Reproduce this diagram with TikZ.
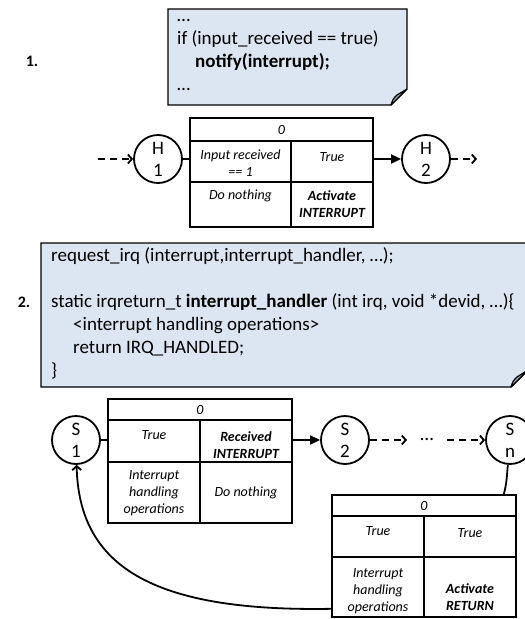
\documentclass[tikz,border=0pt]{standalone}
\usepackage{fontspec}
\setmainfont{Carlito}
\usetikzlibrary{arrows.meta}
\definecolor{notefill}{RGB}{220,230,242}
\definecolor{foldgray}{RGB}{168,175,186}

\begin{document}
\begin{tikzpicture}[x=1pt,y=-1pt,
    state/.style={draw,circle,line width=1.8pt,minimum size=48pt,inner sep=0pt,align=center,font=\fontsize{19}{22}\selectfont},
    tbl/.style={draw,line width=1.6pt,inner sep=0pt},
    tline/.style={line width=1.6pt},
    cell/.style={align=center,inner sep=0pt,font=\itshape\fontsize{14}{17}\selectfont},
    note/.style={draw,line width=1.4pt,fill=notefill},
    ear/.style={draw,line width=1.2pt,fill=foldgray,line join=round},
    code/.style={anchor=north west,align=left,inner sep=0pt,font=\fontsize{19}{23}\selectfont},
    link/.style={line width=1.8pt},
    dashlink/.style={line width=1.8pt,dash pattern=on 7pt off 5pt,-{Straight Barb[length=4pt,width=9pt]}},
    fire/.style={line width=1.8pt,-{Triangle[length=10pt,width=9pt]}}]
\useasboundingbox (0,0) rectangle (525,619);

% 1. hardware side
\node[font=\bfseries\fontsize{16}{19}\selectfont] (lab1) at (32,61) {1.};
\draw[note] (168,9) -- (407,9) -- (407,89) -- (391,105) -- (168,105) -- cycle;
\draw[ear] (391,105) .. controls (393,99) .. (397,95) -- (407,89) -- cycle;
\node[code] (code1) at (177,5) {\strut…\\
  \strut if (input\_received == true)\\
  \strut\hspace*{18pt}\textbf{notify(interrupt);}\\
  \strut…};

\node[state] (h1) at (158,159) {H\\1};
\node[state] (h2) at (426,159) {H\\2};
\coordinate (in1) at (98,159);
\coordinate (out1) at (477,159);

\node[tbl,minimum width=183pt,minimum height=109pt] (t1) at (281.5,172.5) {};
\draw[tline] (190,141) -- (373,141);
\draw[tline] (190,182) -- (373,182);
\draw[tline] (291,141) -- (291,227);
\node[cell] (t1h) at (281.5,130) {0};
\node[cell] (t1a) at (240.5,163) {Input received\\== 1};
\node[cell] (t1b) at (332,157) {True};
\node[cell] (t1c) at (240.5,196) {Do nothing};
\node[cell,font=\bfseries\itshape\fontsize{14}{17}\selectfont] (t1d) at (332,204) {Activate\\INTERRUPT};

\draw[dashlink] (in1) -- (h1);
\draw[link] (h1) -- (h1 -| t1.west);
\draw[fire] (t1.east |- h2) -- (h2);
\draw[dashlink] (h2) -- (out1);

% 2. kernel side
\node[font=\bfseries\fontsize{16}{19}\selectfont] (lab2) at (24,302) {2.};
\draw[note] (41,243) -- (528,243) -- (528,370) -- (511,387) -- (41,387) -- cycle;
\draw[ear] (511,387) .. controls (513,381) .. (517,377) -- (528,370) -- cycle;
\node[code] (code2) at (51,245) {\strut request\_irq (interrupt,interrupt\_handler, …);\\
  \strut\\
  \strut static irqreturn\_t \textbf{interrupt\_handler} (int irq, void *devid, …)\{\\
  \strut\hspace*{22pt}<interrupt handling operations>\\
  \strut\hspace*{22pt}return IRQ\_HANDLED;\\
  \strut\}};

\node[state] (s1) at (76,440) {S\\1};
\node[state] (s2) at (345,440) {S\\2};
\node[state] (sn) at (510,440) {S\\n};
\coordinate (d1) at (407,440);
\coordinate (d2) at (447,440);
\node[font=\fontsize{19}{22}\selectfont] (dots) at (427,439) {…};

\node[tbl,minimum width=184pt,minimum height=124pt] (t2) at (200,461) {};
\draw[tline] (108,420) -- (292,420);
\draw[tline] (108,462) -- (292,462);
\draw[tline] (200,420) -- (200,523);
\node[cell] (t2h) at (200,410) {0};
\node[cell] (t2a) at (154,435) {True};
\node[cell,font=\bfseries\itshape\fontsize{14}{17}\selectfont] (t2b) at (246,445) {Received\\INTERRUPT};
\node[cell] (t2c) at (154,493) {Interrupt\\handling\\operations};
\node[cell] (t2d) at (246,493) {Do nothing};

\node[tbl,minimum width=184pt,minimum height=122pt] (t3) at (424,556) {};
\draw[tline] (332,516) -- (516,516);
\draw[tline] (332,557) -- (516,557);
\draw[tline] (424,516) -- (424,617);
\node[cell] (t3h) at (424,506) {0};
\node[cell] (t3a) at (378,531) {True};
\node[cell] (t3b) at (470,533) {True};
\node[cell] (t3c) at (378,591) {Interrupt\\handling\\operations};
\node[cell,font=\bfseries\itshape\fontsize{14}{17}\selectfont] (t3d) at (470,597) {Activate\\RETURN};

\draw[link] (s1) -- (s1 -| t2.west);
\draw[fire] (t2.east |- s2) -- (s2);
\draw[dashlink] (s2) -- (d1);
\draw[dashlink] (d2) -- (sn);

\coordinate (snin) at ([xshift=-13pt]t3.north east);
\coordinate (ret) at ([yshift=9pt]t3.south west);
\draw[link] (sn) to[out=-95,in=75] (snin);
\draw[link,-{Straight Barb[length=4pt,width=9pt]}] (ret) .. controls (150,612) and (79,565) .. (s1);

\end{tikzpicture}
\end{document}
